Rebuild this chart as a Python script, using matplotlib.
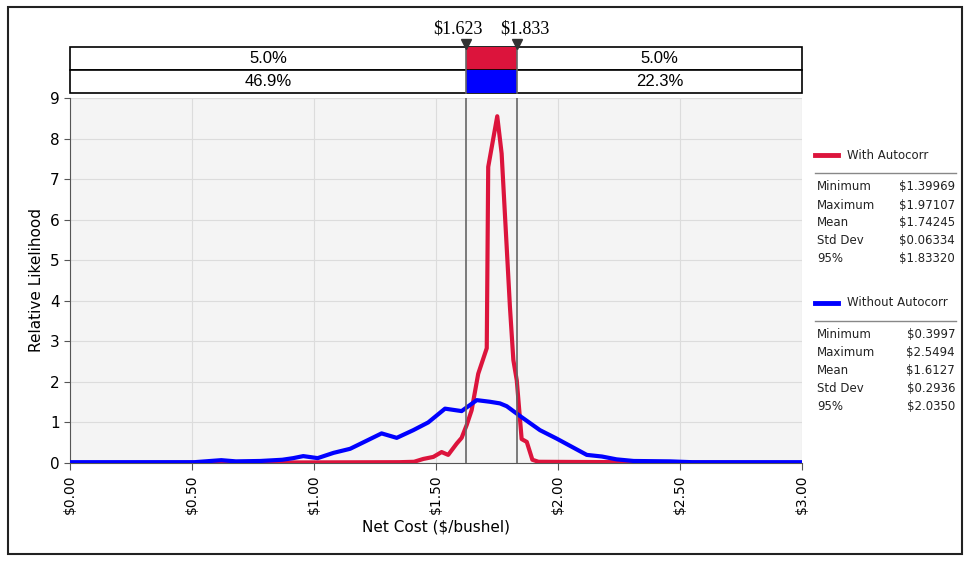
import matplotlib.pyplot as plt
from matplotlib.patches import Rectangle
from matplotlib.lines import Line2D

# Datos
red_x = [0.00, 1.35, 1.41, 1.448, 1.489, 1.523, 1.55, 1.585, 1.605, 1.626, 1.646, 1.673,
         1.708, 1.714, 1.751, 1.769, 1.803, 1.817, 1.831, 1.851, 1.872, 1.895, 1.92, 3.00]
red_y = [0.0, 0.02, 0.03, 0.10, 0.15, 0.27, 0.20, 0.48, 0.62, 0.94, 1.30, 2.20,
         2.83, 7.30, 8.55, 7.63, 3.85, 2.54, 2.04, 0.59, 0.52, 0.08, 0.03, 0.0]

blue_x = [0.00, 0.51, 0.62, 0.68, 0.78, 0.87, 0.915, 0.956, 1.015, 1.08, 1.148, 1.216,
          1.277, 1.339, 1.407, 1.468, 1.537, 1.605, 1.667, 1.721, 1.762, 1.79, 1.844,
          1.926, 1.995, 2.118, 2.18, 2.24, 2.31, 2.46, 2.55, 3.00]
blue_y = [0.02, 0.02, 0.07, 0.04, 0.05, 0.08, 0.12, 0.17, 0.12, 0.25, 0.35, 0.55,
          0.73, 0.62, 0.81, 1.00, 1.34, 1.28, 1.55, 1.51, 1.47, 1.40, 1.16,
          0.81, 0.60, 0.20, 0.16, 0.09, 0.05, 0.04, 0.02, 0.02]

lo, hi = 1.623, 1.833
red_pcts = ['5.0%', '5.0%']
blue_pcts = ['46.9%', '22.3%']

x_ticks = [0.0, 0.5, 1.0, 1.5, 2.0, 2.5, 3.0]
x_labels = ['$0.00', '$0.50', '$1.00', '$1.50', '$2.00', '$2.50', '$3.00']

series = [
    ('With Autocorr', '#dc143c',
     [('Minimum', '$1.39969'), ('Maximum', '$1.97107'), ('Mean', '$1.74245'),
      ('Std Dev', '$0.06334'), ('95%', '$1.83320')]),
    ('Without Autocorr', '#0000ff',
     [('Minimum', '$0.3997'), ('Maximum', '$2.5494'), ('Mean', '$1.6127'),
      ('Std Dev', '$0.2936'), ('95%', '$2.0350')]),
]

W, H = 969, 561


def fx(px):
    return px / W


def fy(py):
    return 1 - py / H


fig = plt.figure(figsize=(W / 100, H / 100), dpi=100)

# Marco exterior
fig.patches.append(Rectangle((fx(8), fy(554)), fx(954), 547 / H, transform=fig.transFigure,
                             fill=False, edgecolor='#222222', linewidth=1.5))

# Gráfico principal
ax = fig.add_axes([fx(70), fy(463), fx(732), 365 / H])
ax.set_facecolor('#f4f4f4')
ax.plot(red_x, red_y, color='#dc143c', lw=3, zorder=3)
ax.plot(blue_x, blue_y, color='#0000ff', lw=3, zorder=4)
ax.axvline(lo, color='#666666', lw=1.2, zorder=5)
ax.axvline(hi, color='#666666', lw=1.2, zorder=5)

ax.set_xlim(0, 3)
ax.set_ylim(0, 9)
ax.set_xticks(x_ticks)
ax.set_xticklabels(x_labels, rotation=90, fontsize=10)
ax.set_yticks(range(10))
ax.tick_params(axis='y', labelsize=11, length=4, color='#555555')
ax.tick_params(axis='x', length=5, color='#555555')
ax.grid(True, color='#dcdcdc', lw=0.8)
ax.set_axisbelow(True)
for s in ['top', 'right']:
    ax.spines[s].set_visible(False)
for s in ['left', 'bottom']:
    ax.spines[s].set_color('#555555')
ax.set_xlabel('Net Cost ($/bushel)', fontsize=11)
ax.set_ylabel('Relative Likelihood', fontsize=11)

# Banda superior con percentiles
band = fig.add_axes([fx(70), fy(93), fx(732), 46 / H])
band.set_xlim(0, 3)
band.set_ylim(0, 2)
band.axis('off')
for row, pcts, col in [(1, red_pcts, '#dc143c'), (0, blue_pcts, '#0000ff')]:
    band.add_patch(Rectangle((0, row), 3, 1, facecolor='white', edgecolor='black', lw=1.2,
                             clip_on=False))
    band.add_patch(Rectangle((lo, row), hi - lo, 1, facecolor=col, edgecolor='none',
                             clip_on=False))
    band.text(lo / 2, row + 0.5, pcts[0], ha='center', va='center', fontsize=12,
              family='Liberation Sans')
    band.text((hi + 3) / 2, row + 0.5, pcts[1], ha='center', va='center', fontsize=12,
              family='Liberation Sans')
band.plot([lo, lo], [0, 2], color='#666666', lw=1.2, clip_on=False)
band.plot([hi, hi], [0, 2], color='#666666', lw=1.2, clip_on=False)
band.plot([lo, hi], [2.15, 2.15], 'v', color='#333333', markersize=6.5, clip_on=False)
band.text(lo + 0.07, 2.78, f'${lo:.3f}', ha='right', va='center', fontsize=13,
          family='Liberation Serif')
band.text(hi - 0.07, 2.78, f'${hi:.3f}', ha='left', va='center', fontsize=13,
          family='Liberation Serif')

# Leyenda con estadísticas
for i, (name, col, stats) in enumerate(series):
    y0 = 155 + i * 148
    fig.add_artist(Line2D([fx(815), fx(838)], [fy(y0), fy(y0)], color=col, lw=3.5))
    fig.text(fx(847), fy(y0), name, fontsize=8.5, va='center', color='#222222')
    fig.add_artist(Line2D([fx(815), fx(956)], [fy(y0 + 18), fy(y0 + 18)],
                          color='#888888', lw=1))
    for j, (lab, val) in enumerate(stats):
        yy = y0 + 32 + j * 18
        fig.text(fx(817), fy(yy), lab, fontsize=8.5, va='center', color='#222222')
        fig.text(fx(955), fy(yy), val, fontsize=8.5, va='center', ha='right', color='#222222')

fig.savefig('out.png', dpi=100)
